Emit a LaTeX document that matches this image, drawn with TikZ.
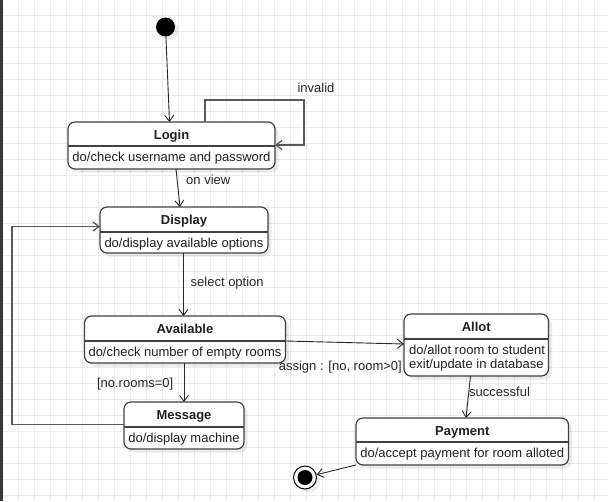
\documentclass[tikz,border=0pt]{standalone}
\usepackage{fontspec}
\setmainfont{Liberation Sans}
\usetikzlibrary{arrows.meta,shadows}
\begin{document}
\begin{tikzpicture}[x=1pt,y=-1pt,
  gridline/.style={draw=black!8, line width=0.8pt},
  statebox/.style={draw=black!75, line width=1.2pt, rounded corners=7pt, fill=white,
    inner sep=0pt, outer sep=0pt,
    drop shadow={shadow xshift=3.5pt, shadow yshift=-3.5pt, fill=black, opacity=0.08}},
  divider/.style={draw=black!75, line width=1.2pt},
  sttitle/.style={font=\fontsize{13}{15}\selectfont\bfseries, text=black!88, inner sep=0pt, anchor=base},
  stbody/.style={font=\fontsize{13}{15}\selectfont, text=black!88, inner sep=0pt, anchor=base},
  lbl/.style={font=\fontsize{13}{15}\selectfont, text=black!85, inner sep=0pt},
  conn/.style={draw=black!85, line width=0.9pt, -{Straight Barb[length=6pt,width=9pt]}},
  loopconn/.style={conn, draw=black!65, line width=1.3pt},
]
\useasboundingbox (0,0) rectangle (608,501);
% background grid
\fill[white] (0,0) rectangle (608,501);
\foreach \k in {0,...,37} \draw[gridline] (2.3+16*\k,0) -- (2.3+16*\k,501);
\foreach \k in {0,...,30} \draw[gridline] (0,15+16*\k) -- (608,15+16*\k);
\fill[black!78] (0,0) rectangle (2.7,501);

% initial state
\node[circle, fill=black, minimum size=19pt, inner sep=0pt,
  drop shadow={shadow xshift=3.5pt, shadow yshift=-3.5pt, fill=black, opacity=0.08}] (init) at (165.5,27) {};

% Login
\node[statebox, minimum width=207pt, minimum height=47pt] (login) at (171.5,145.5) {};
\draw[divider] (login.west |- 0,146) -- (login.east |- 0,146);
\node[sttitle] (logint) at (171.5,139) {Login};
\node[stbody] (loginb) at (171.5,161.5) {do/check username and password};

% Display
\node[statebox, minimum width=168pt, minimum height=46pt] (display) at (184,230) {};
\draw[divider] (display.west |- 0,232) -- (display.east |- 0,232);
\node[sttitle] (displayt) at (184,224) {Display};
\node[stbody] (displayb) at (184,247) {do/display available options};

% Available
\node[statebox, minimum width=201pt, minimum height=47pt] (avail) at (185,339.5) {};
\draw[divider] (avail.west |- 0,341) -- (avail.east |- 0,341);
\node[sttitle] (availt) at (185,333) {Available};
\node[stbody] (availb) at (185,356) {do/check number of empty rooms};

% Allot
\node[statebox, minimum width=144.5pt, minimum height=62pt] (allot) at (476.25,345) {};
\draw[divider] (allot.west |- 0,339) -- (allot.east |- 0,339);
\node[sttitle] (allott) at (476.25,331) {Allot};
\node[stbody, anchor=base west] (allotb1) at (409,354) {do/allot room to student};
\node[stbody, anchor=base west] (allotb2) at (409,368.5) {exit/update in database};

% Message
\node[statebox, minimum width=120pt, minimum height=47pt] (message) at (184,425.5) {};
\draw[divider] (message.west |- 0,427) -- (message.east |- 0,427);
\node[sttitle] (messaget) at (184,419) {Message};
\node[stbody] (messageb) at (184,442) {do/display machine};

% Payment
\node[statebox, minimum width=212.5pt, minimum height=47pt] (payment) at (462.25,441.5) {};
\draw[divider] (payment.west |- 0,442) -- (payment.east |- 0,442);
\node[sttitle] (paymentt) at (462.25,435) {Payment};
\node[stbody] (paymentb) at (462.25,457.5) {do/accept payment for room alloted};

% final state
\node[circle, draw=black, line width=1pt, fill=white, minimum size=23pt, inner sep=0pt,
  drop shadow={shadow xshift=3.5pt, shadow yshift=-3.5pt, fill=black, opacity=0.08}] (final) at (305,477.5) {};
\node[circle, fill=black, minimum size=15pt, inner sep=0pt] (finaldot) at (final) {};

% connectors
\draw[conn] (init) -- (169.5,0 |- login.north);
\draw[loopconn] (205,0 |- login.north) -- (205,100) -- (304,100) -- (304,145) -- (login.east |- 0,145);
\node[lbl, anchor=base] (lblinvalid) at (316,92) {invalid};

\draw[conn] (176,0 |- login.south) -- (180,0 |- display.north);
\node[lbl, anchor=base west] (lblonview) at (186,184) {on view};

\draw[conn] (183.5,0 |- display.south) -- (183.5,0 |- avail.north);
\node[lbl, anchor=base west] (lblselect) at (190.5,286) {select option};

\draw[conn] (avail.east |- 0,341) -- (allot.west |- 0,344);
\node[lbl, anchor=base east] (lblassign) at (402,370) {assign : [no, room>0]};

\draw[conn] (184,0 |- avail.south) -- (184,0 |- message.north);
\node[lbl, anchor=base east] (lblnorooms) at (173.5,387) {[no.rooms=0]};

\draw[loopconn] (message.west |- 0,424.5) -- (12,424.5) -- (12,226.5) -- (display.west |- 0,226.5);

\draw[conn] (470.5,0 |- allot.south) -- (466,0 |- payment.north);
\node[lbl, anchor=base west] (lblsuccess) at (469,396) {successful};

\draw[conn] (payment.south west) -- (final);
\end{tikzpicture}
\end{document}
